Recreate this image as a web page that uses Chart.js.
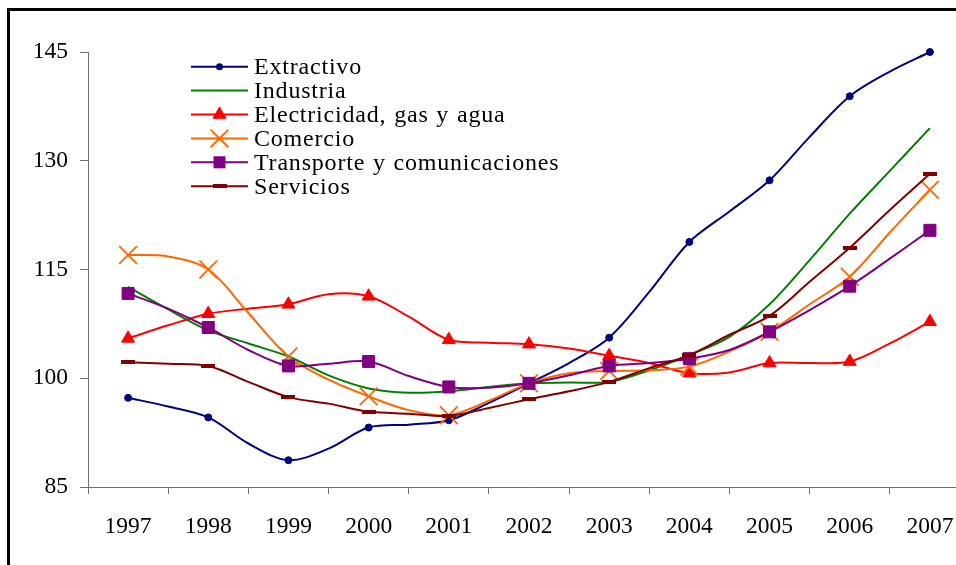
<!DOCTYPE html>
<html><head><meta charset="utf-8">
<script src="https://cdn.jsdelivr.net/npm/chart.js@4"></script>
<style>
html,body{margin:0;padding:0;background:#fff;overflow:hidden;width:956px;height:565px;}
#wrap{position:absolute;left:0;top:0;width:1000px;height:600px;}
#frame{position:absolute;left:7px;top:8px;width:1100px;height:700px;border:3px solid #000;pointer-events:none;}
#probe{position:absolute;left:-9999px;top:0;font-family:"Liberation Serif","Times New Roman",serif;font-size:24px;}
</style></head><body>
<div id="probe">Extractivo 1997 145</div>
<div id="wrap"><canvas id="c" width="1000" height="600"></canvas></div>
<div id="frame"></div>
<script>
// Category labels (years)
const years = ['1997','1998','1999','2000','2001','2002','2003','2004','2005','2006','2007'];
const yTicks = [85, 100, 115, 130, 145];
const seriesNames = ['Extractivo','Industria','Electricidad, gas y agua','Comercio','Transporte y comunicaciones','Servicios'];

// Values at each year and each mid-year (1997, 1997.5, 1998, ...)
const extractivo   = [97.3, 96.1, 94.6, 91.0, 88.7, 90.3, 93.2, 93.6, 94.2, 96.6, 99.3, 102.1, 105.6, 111.9, 118.8, 123.0, 127.3, 133.3, 138.9, 142.3, 145.0];
const industria    = [112.6, 109.5, 106.6, 104.8, 103.0, 100.4, 98.6, 98.0, 98.2, 98.8, 99.3, 99.4, 99.5, 101.1, 103.2, 105.7, 110.2, 116.3, 122.7, 128.6, 134.5];
const electricidad = [105.5, 107.3, 108.9, 109.6, 110.2, 111.6, 111.3, 108.5, 105.3, 104.9, 104.7, 104.1, 103.1, 102.1, 100.7, 100.8, 102.1, 102.1, 102.3, 104.8, 107.8];
const comercio     = [117.0, 116.8, 115.0, 109.0, 103.0, 99.8, 97.5, 95.6, 94.9, 96.9, 99.3, 100.7, 101.0, 101.1, 101.6, 103.7, 106.4, 110.2, 114.0, 120.1, 126.0];
const transporte   = [111.7, 109.6, 107.0, 103.9, 101.7, 102.0, 102.3, 100.3, 98.8, 98.7, 99.3, 100.4, 101.7, 102.1, 102.7, 103.9, 106.4, 109.4, 112.7, 116.5, 120.4];
const servicios    = [102.2, 102.0, 101.7, 99.5, 97.4, 96.5, 95.4, 95.1, 94.8, 95.9, 97.1, 98.2, 99.5, 101.4, 103.2, 106.0, 108.6, 113.3, 118.0, 123.2, 128.2];

const allSeries = [extractivo, industria, electricidad, comercio, transporte, servicios];
const colors = ['#000080', '#008000', '#FF0000', '#FF6600', '#800080', '#800000'];
const FONT = '"Liberation Serif", "Times New Roman", Tinos, serif';

// dash marker for Servicios
const dash = document.createElement('canvas');
dash.width = 14; dash.height = 4;
const dctx = dash.getContext('2d'); dctx.fillStyle = '#800000'; dctx.fillRect(0, 0, 14, 4);

const markers = [
  {style: 'circle', r: 3.5, bw: 1},
  {style: 'circle', r: 0, bw: 0},
  {style: 'triangle', r: 7.5, bw: 1},
  {style: 'crossRot', r: 12.5, bw: 1.8},
  {style: 'rect', r: 8.5, bw: 1},
  {style: dash, r: 7, bw: 0}
];

const toPts = arr => arr.map((v, i) => ({x: i / 2, y: v}));

const datasets = allSeries.map((arr, k) => ({
  label: seriesNames[k],
  data: toPts(arr),
  borderColor: colors[k],
  backgroundColor: colors[k],
  pointBackgroundColor: colors[k],
  pointBorderColor: colors[k],
  pointStyle: markers[k].style,
  pointBorderWidth: markers[k].bw,
  pointRadius: c => (c.dataIndex % 2 === 0 ? markers[k].r : 0),
  pointHoverRadius: c => (c.dataIndex % 2 === 0 ? markers[k].r : 0),
  borderWidth: 2,
  tension: 0.33,
  fill: false,
  order: allSeries.length - k,
  clip: false
}));

function drawMarker(ctx, m, color, x, y) {
  ctx.save();
  ctx.fillStyle = color; ctx.strokeStyle = color; ctx.lineWidth = m.bw;
  const r = m.r;
  if (m.style === 'circle' && r > 0) {
    ctx.beginPath(); ctx.arc(x, y, r, 0, Math.PI * 2); ctx.fill();
  } else if (m.style === 'triangle') {
    ctx.beginPath();
    for (let i = 0; i < 3; i++) {
      const a = i * 2 * Math.PI / 3;
      ctx.lineTo(x + Math.sin(a) * r, y - Math.cos(a) * r);
    }
    ctx.closePath(); ctx.fill(); ctx.stroke();
  } else if (m.style === 'crossRot') {
    const o = Math.cos(Math.PI / 4) * r;
    ctx.beginPath();
    ctx.moveTo(x - o, y - o); ctx.lineTo(x + o, y + o);
    ctx.moveTo(x - o, y + o); ctx.lineTo(x + o, y - o);
    ctx.stroke();
  } else if (m.style === 'rect') {
    const s = r / Math.SQRT2;
    ctx.fillRect(x - s, y - s, 2 * s, 2 * s);
  } else if (m.style instanceof HTMLCanvasElement) {
    ctx.drawImage(m.style, x - m.style.width / 2, y - m.style.height / 2);
  }
  ctx.restore();
}

const innerLegend = {
  id: 'innerLegend',
  afterDraw(chart) {
    const ctx = chart.ctx;
    ctx.save();
    seriesNames.forEach((name, k) => {
      const y = 66.7 + k * 23.9;
      ctx.strokeStyle = colors[k]; ctx.lineWidth = 2;
      ctx.beginPath(); ctx.moveTo(191, y); ctx.lineTo(248, y); ctx.stroke();
      drawMarker(ctx, markers[k], colors[k], 219.5, y);
      ctx.fillStyle = '#000';
      ctx.font = '24px ' + FONT;
      try { ctx.letterSpacing = '0.8px'; ctx.wordSpacing = '1px'; } catch (e) {}
      ctx.textBaseline = 'alphabetic';
      ctx.textAlign = 'left';
      ctx.fillText(name, 254, y + 7.5);
    });
    ctx.restore();
  }
};

function draw() {
  new Chart(document.getElementById('c'), {
    type: 'line',
    data: {datasets},
    plugins: [innerLegend],
    options: {
      responsive: false,
      animation: false,
      events: [],
      layout: {padding: {left: 0, top: 52, right: 30, bottom: 0}},
      plugins: {legend: {display: false}, tooltip: {enabled: false}},
      scales: {
        x: {
          type: 'linear',
          min: -0.5, max: 10.5,
          afterBuildTicks: s => { s.ticks = years.map((_, i) => ({value: i})); },
          afterFit: s => { s.height = 113; },
          ticks: {
            autoSkip: false,
            maxRotation: 0,
            padding: 19,
            color: '#000',
            font: {family: FONT, size: 23.5},
            callback: v => years[v] ?? ''
          },
          grid: {offset: true, drawOnChartArea: false, drawTicks: true, tickLength: 7, color: '#707070', lineWidth: 1},
          border: {display: true, color: '#707070', width: 1}
        },
        y: {
          min: 85, max: 145,
          afterBuildTicks: s => { s.ticks = yTicks.map(v => ({value: v})); },
          afterFit: s => { s.width = 88; },
          ticks: {
            padding: 12,
            color: '#000',
            font: {family: FONT, size: 23.5}
          },
          grid: {drawOnChartArea: false, drawTicks: true, tickLength: 8, color: '#707070', lineWidth: 1},
          border: {display: true, color: '#707070', width: 1}
        }
      }
    }
  });
}

const loads = [document.fonts.load('24px "Liberation Serif"'), document.fonts.load('23.5px "Liberation Serif"')];
Promise.all(loads).then(draw, draw);
</script>
</body></html>
